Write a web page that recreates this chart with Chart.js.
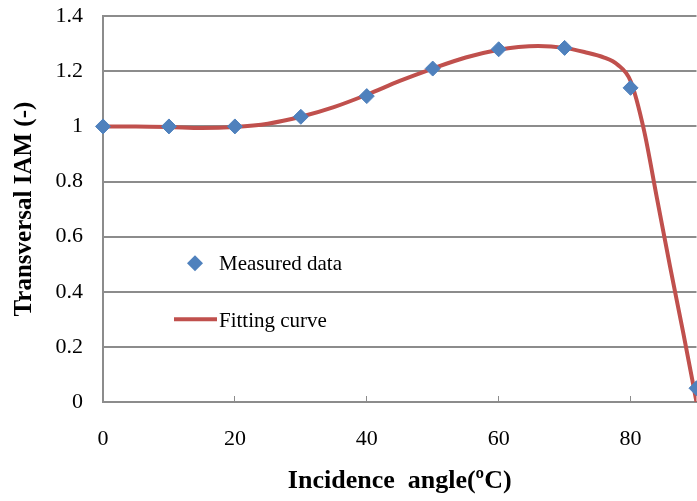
<!DOCTYPE html>
<html>
<head>
<meta charset="utf-8">
<script src="https://cdn.jsdelivr.net/npm/chart.js@4/dist/chart.umd.min.js"></script>
<style>
  html, body { margin: 0; padding: 0; background: #fff; overflow: hidden; }
  #wrap { width: 705px; height: 518px; position: relative; margin-top: -17px; }
</style>
</head>
<body>
<div id="wrap"><canvas id="iamChart"></canvas></div>
<script>
// measured points
const measuredAngles = [0, 10, 20, 30, 40, 50, 60, 70, 80, 90];
const measuredIAM    = [1.0, 1.0, 1.0, 1.035, 1.11, 1.21, 1.28, 1.285, 1.14, 0.05];

// fitting curve
const fitAngles = [0, 5, 10, 15, 20, 25, 30, 35, 40, 45, 50, 55, 60, 63, 66, 70, 73, 76, 78, 80, 82, 84, 86, 88, 90];
const fitIAM    = [1.0, 1.0, 0.998, 0.994, 0.998, 1.01, 1.035, 1.07, 1.115, 1.165, 1.21, 1.25, 1.278, 1.288, 1.292, 1.285, 1.27, 1.25, 1.225, 1.165, 0.99, 0.74, 0.49, 0.25, 0.0];

const xTicks = [0, 20, 40, 60, 80];
const yTicks = [0, 0.2, 0.4, 0.6, 0.8, 1, 1.2, 1.4];

const serif = "'Liberation Serif', 'Times New Roman', serif";
const gridGray = '#8c8c8c';

// legend drawn inside the plot, like the original
const innerLegend = {
  id: 'innerLegend',
  afterDatasetsDraw(chart) {
    const ctx = chart.ctx;
    const L = chart.chartArea.left, T = chart.chartArea.top;
    ctx.save();
    ctx.font = '21px ' + serif;
    ctx.textBaseline = 'middle';

    // diamond
    const dx = L + 92, dy = T + 247;
    ctx.fillStyle = '#4f81bd';
    ctx.beginPath();
    ctx.moveTo(dx, dy - 8); ctx.lineTo(dx + 8, dy); ctx.lineTo(dx, dy + 8); ctx.lineTo(dx - 8, dy);
    ctx.closePath();
    ctx.fill();
    ctx.fillStyle = '#000';
    ctx.fillText('Measured data', L + 116, dy + 1);

    // line
    const ly = T + 303;
    ctx.strokeStyle = '#c0504d';
    ctx.lineWidth = 4;
    ctx.beginPath();
    ctx.moveTo(L + 71, ly); ctx.lineTo(L + 114, ly);
    ctx.stroke();
    ctx.fillText('Fitting curve', L + 116, ly + 2);
    ctx.restore();
  }
};

new Chart(document.getElementById('iamChart').getContext('2d'), {
  type: 'scatter',
  data: {
    datasets: [
      {
        label: 'Fitting curve',
        data: fitAngles.map((a, i) => ({ x: a, y: fitIAM[i] })),
        showLine: true,
        borderColor: '#c0504d',
        borderWidth: 4,
        pointRadius: 0,
        cubicInterpolationMode: 'monotone',
        order: 2
      },
      {
        label: 'Measured data',
        data: measuredAngles.map((a, i) => ({ x: a, y: measuredIAM[i] })),
        pointStyle: 'rectRot',
        pointRadius: 7.5,
        backgroundColor: '#4f81bd',
        borderColor: '#4f81bd',
        borderWidth: 1,
        clip: false,
        order: 1
      }
    ]
  },
  options: {
    responsive: true,
    maintainAspectRatio: false,
    animation: false,
    layout: { padding: { top: 0, right: 3, left: 0, bottom: 0 } },
    plugins: {
      legend: { display: false },
      tooltip: { enabled: false }
    },
    scales: {
      x: {
        type: 'linear',
        min: 0,
        max: 90,
        afterBuildTicks: s => { s.ticks = xTicks.map(v => ({ value: v })); },
        afterFit: s => { s.height = 99; },
        grid: { drawOnChartArea: false, drawTicks: true, tickLength: -6, color: gridGray, lineWidth: 1 },
        border: { color: gridGray, width: 2 },
        ticks: { padding: 30, color: '#000', font: { family: serif, size: 22 } },
        title: {
          display: true,
          text: 'Incidence  angle(ºC)',
          color: '#000',
          font: { family: serif, size: 26, weight: 'bold' },
          padding: { top: 0, bottom: 4 }
        }
      },
      y: {
        min: 0,
        max: 1.4,
        afterBuildTicks: s => { s.ticks = yTicks.map(v => ({ value: v })); },
        afterFit: s => { s.width = 103; },
        grid: { color: gridGray, lineWidth: 2, drawTicks: false },
        border: { color: gridGray, width: 2 },
        ticks: {
          padding: 20,
          color: '#000',
          font: { family: serif, size: 22 },
          callback: v => String(Math.round(v * 10) / 10)
        },
        title: {
          display: true,
          text: 'Transversal IAM (-)',
          color: '#000',
          font: { family: serif, size: 25, weight: 'bold' },
          padding: { top: 10, bottom: 0 }
        }
      }
    }
  },
  plugins: [innerLegend]
});
</script>
</body>
</html>
